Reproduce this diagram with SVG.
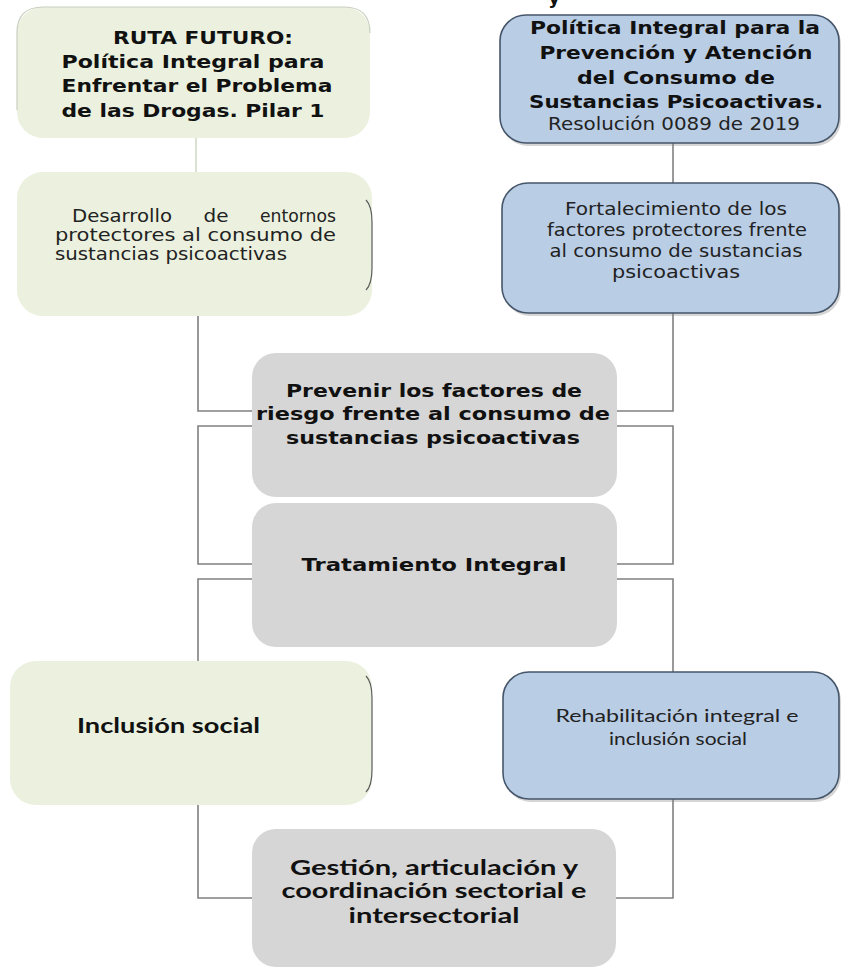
<svg xmlns="http://www.w3.org/2000/svg" width="841" height="968" viewBox="0 0 841 968">
<style>
.green{fill:#EBF1DE}
.gedge{fill:none;stroke:#5a5a5a;stroke-width:1.2}
.gsoft{fill:none;stroke:#C9CFC0;stroke-width:1.2}
.blue{fill:#B9CDE5;stroke:#46566A;stroke-width:1.6}
.bshadow{fill:#8a8a8a;opacity:0.35}
.gray{fill:#D6D6D6}
.conn{fill:none;stroke:#808080;stroke-width:1.6}
.pale{fill:none;stroke:#D3DAC6;stroke-width:1.6}
.vb{font-family:"DejaVu Sans","Liberation Sans",sans-serif;font-weight:bold;fill:#111;font-size:18px}
.tr{font-family:"DejaVu Sans","Liberation Sans",sans-serif;fill:#222;font-size:17px}
.cb{font-family:Lato,"Liberation Sans",sans-serif;font-weight:bold;fill:#111;font-size:21px}
.cr{font-family:Lato,"Liberation Sans",sans-serif;fill:#222;font-size:18px}
.c{text-anchor:middle}
</style>

<text class="vb c" x="554" y="4">y</text>

<g id="connectors">
  <line class="pale" x1="196" y1="138" x2="196" y2="172"/>
  <line class="conn" x1="673" y1="143" x2="673" y2="183"/>
  <polyline class="conn" points="198,316 198,411 252,411"/>
  <polyline class="conn" points="252,426 198,426 198,564 252,564"/>
  <polyline class="conn" points="252,579 198,579 198,661"/>
  <polyline class="conn" points="198,805 198,898 252,898"/>
  <polyline class="conn" points="673,313 673,411 617,411"/>
  <polyline class="conn" points="617,426 673,426 673,564 617,564"/>
  <polyline class="conn" points="617,579 673,579 673,672"/>
  <polyline class="conn" points="673,799 673,898 616,898"/>
</g>

<g id="ruta-futuro">
  <rect class="green" x="17" y="7" width="353" height="131" rx="26"/>
  <path class="gsoft" d="M17,110 L17,33 Q17,7 43,7 L344,7 Q370,7 370,33"/>
  <text class="vb c" x="203" y="44" textLength="180" lengthAdjust="spacingAndGlyphs">RUTA FUTURO:</text>
  <text class="vb c" x="193" y="68" textLength="263" lengthAdjust="spacingAndGlyphs">Política Integral para</text>
  <text class="vb c" x="197" y="92" textLength="271" lengthAdjust="spacingAndGlyphs">Enfrentar el Problema</text>
  <text class="vb c" x="193" y="117" textLength="263" lengthAdjust="spacingAndGlyphs">de las Drogas. Pilar 1</text>
</g>

<g id="politica-integral">
  <rect class="bshadow" x="502" y="18" width="339" height="128" rx="26"/>
  <rect class="blue" x="500" y="15" width="339" height="128" rx="26"/>
  <text class="vb c" x="675" y="34" textLength="290" lengthAdjust="spacingAndGlyphs">Política Integral para la</text>
  <text class="vb c" x="676" y="59" textLength="273" lengthAdjust="spacingAndGlyphs">Prevención y Atención</text>
  <text class="vb c" x="676" y="84" textLength="198" lengthAdjust="spacingAndGlyphs">del Consumo de</text>
  <text class="vb c" x="676" y="108" textLength="294" lengthAdjust="spacingAndGlyphs">Sustancias Psicoactivas.</text>
  <text class="tr c" x="674" y="130" font-size="18" textLength="252" lengthAdjust="spacingAndGlyphs">Resolución 0089 de 2019</text>
</g>

<g id="desarrollo">
  <rect class="green" x="17" y="172" width="355" height="144" rx="26"/>
  <path class="gedge" d="M366,200 Q372,206 372,222 L372,268 Q372,284 366,290"/>
  <text class="tr" x="72" y="222" textLength="100" lengthAdjust="spacingAndGlyphs">Desarrollo</text>
  <text class="tr c" x="216" y="222" textLength="25" lengthAdjust="spacingAndGlyphs">de</text>
  <text class="tr" x="336" y="222" text-anchor="end" textLength="76" lengthAdjust="spacingAndGlyphs">entornos</text>
  <text class="tr" x="55" y="241" textLength="281" lengthAdjust="spacingAndGlyphs">protectores al consumo  de</text>
  <text class="tr" x="55" y="260" textLength="232" lengthAdjust="spacingAndGlyphs">sustancias psicoactivas</text>
</g>

<g id="fortalecimiento">
  <rect class="bshadow" x="504" y="186" width="337" height="130" rx="26"/>
  <rect class="blue" x="502" y="183" width="337" height="130" rx="26"/>
  <text class="tr c" x="676" y="215" textLength="222" lengthAdjust="spacingAndGlyphs">Fortalecimiento de los</text>
  <text class="tr c" x="677" y="236" textLength="260" lengthAdjust="spacingAndGlyphs">factores protectores frente</text>
  <text class="tr c" x="676" y="257" textLength="253" lengthAdjust="spacingAndGlyphs">al consumo de sustancias</text>
  <text class="tr c" x="676" y="278" textLength="128" lengthAdjust="spacingAndGlyphs">psicoactivas</text>
</g>

<g id="prevenir">
  <rect class="gray" x="252" y="353" width="365" height="144" rx="24"/>
  <text class="vb c" x="434" y="397" font-size="19" textLength="296" lengthAdjust="spacingAndGlyphs">Prevenir los factores de</text>
  <text class="vb c" x="433" y="420" font-size="19" textLength="354" lengthAdjust="spacingAndGlyphs">riesgo frente al consumo  de</text>
  <text class="vb c" x="433" y="444" font-size="19" textLength="294" lengthAdjust="spacingAndGlyphs">sustancias psicoactivas</text>
</g>

<g id="tratamiento">
  <rect class="gray" x="252" y="503" width="365" height="144" rx="24"/>
  <text class="vb c" x="434" y="571" font-size="19" textLength="265" lengthAdjust="spacingAndGlyphs">Tratamiento Integral</text>
</g>

<g id="inclusion">
  <rect class="green" x="10" y="661" width="362" height="144" rx="26"/>
  <path class="gedge" d="M366,676 Q372,682 372,698 L372,770 Q372,786 366,792"/>
  <text class="cb" x="77" y="733" font-size="20" textLength="183" lengthAdjust="spacingAndGlyphs">Inclusión social</text>
</g>

<g id="rehabilitacion">
  <rect class="bshadow" x="505" y="675" width="336" height="127" rx="26"/>
  <rect class="blue" x="503" y="672" width="336" height="127" rx="26"/>
  <text class="cr c" x="677" y="722" textLength="243" lengthAdjust="spacingAndGlyphs">Rehabilitación integral e</text>
  <text class="cr c" x="678" y="745" textLength="138" lengthAdjust="spacingAndGlyphs">inclusión social</text>
</g>

<g id="gestion">
  <rect class="gray" x="252" y="829" width="364" height="138" rx="24"/>
  <text class="cb c" x="434" y="875" textLength="288" lengthAdjust="spacingAndGlyphs">Gestión, articulación y</text>
  <text class="cb c" x="434" y="898" textLength="305" lengthAdjust="spacingAndGlyphs">coordinación sectorial e</text>
  <text class="cb c" x="434" y="923" textLength="171" lengthAdjust="spacingAndGlyphs">intersectorial</text>
</g>
</svg>
